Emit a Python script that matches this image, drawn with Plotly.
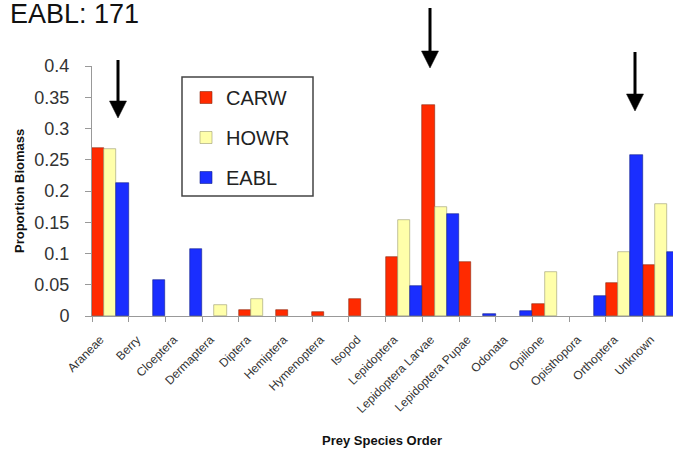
import plotly.graph_objects as go

categories = ["Araneae", "Berry", "Cloeptera", "Dermaptera", "Diptera", "Hemiptera",
              "Hymenoptera", "Isopod", "Lepidoptera", "Lepidoptera Larvae",
              "Lepidoptera Pupae", "Odonata", "Opilione", "Opisthopora",
              "Orthoptera", "Unknown"]
carw = [0.269, None, None, None, 0.010, 0.009, 0.006, 0.027, 0.095, 0.338,
        0.086, None, 0.020, None, 0.053, 0.081]
howr = [0.267, None, None, 0.018, 0.027, None, None, None, 0.154, 0.175,
        None, None, 0.070, None, 0.102, 0.180]
eabl = [0.213, 0.057, 0.107, None, None, None, None, None, 0.048, 0.164,
        0.003, 0.008, None, 0.032, 0.258, 0.102]
y_ticks = [0, 0.05, 0.1, 0.15, 0.2, 0.25, 0.3, 0.35, 0.4]

W, H = 673, 452
L, R, T, B = 92, 0, 66, 136
PW, PH = W - L - R, H - T - B

def px(x):
    return (x - L) / PW

def py(y):
    return (H - B - y) / PH

fig = go.Figure()
series = [("CARW", carw, "#FF2A00", "#8a2a10"),
          ("HOWR", howr, "#FFFFAA", "#9a9a70"),
          ("EABL", eabl, "#1A2EFF", "#10208a")]
for name, vals, col, lc in series:
    fig.add_trace(go.Bar(x=categories, y=vals, name=name, legendgroup=name,
                         marker=dict(color=col, line=dict(color=lc, width=0.6))))

shapes = [dict(type="rect", xref="paper", yref="paper",
               x0=px(182), x1=px(313), y0=py(196), y1=py(77),
               fillcolor="white", line=dict(color="#444", width=1.5), layer="above")]
arrows = [(118, 60, 118), (430, 8, 68), (635, 52, 111)]
for ax, ytop, ytip in arrows:
    hb = ytip - 17
    shapes.append(dict(type="line", xref="paper", yref="paper",
                       x0=px(ax), x1=px(ax), y0=py(ytop), y1=py(hb + 2),
                       line=dict(color="black", width=3)))
    shapes.append(dict(type="path", xref="paper", yref="paper",
                       path=f"M {px(ax-8.5)},{py(hb)} L {px(ax+8.5)},{py(hb)} L {px(ax)},{py(ytip)} Z",
                       fillcolor="black", line=dict(color="black", width=0.5)))

fig.update_layout(
    width=W, height=H,
    margin=dict(l=L, r=R, t=T, b=B),
    paper_bgcolor="white", plot_bgcolor="white",
    barmode="group", bargap=0, bargroupgap=0,
    font=dict(family="Liberation Sans, Arial, sans-serif", color="#222"),
    title=dict(text="EABL: 171", x=10 / W, xref="container", xanchor="left",
               y=1 - 4 / H, yref="container", yanchor="top",
               font=dict(size=27, color="#111")),
    xaxis=dict(type="category", range=[-0.5, -0.5 + PW / 36.7],
               tickson="boundaries", ticks="outside", ticklen=5, tickcolor="#999",
               showline=True, linecolor="#999", linewidth=1, showgrid=False,
               tickangle=-45, tickfont=dict(size=12, color="#333"),
               ticklabelshift=-10, ticklabelstandoff=11),
    yaxis=dict(range=[0, 0.4], tickvals=y_ticks, ticks="outside", ticklen=6,
               tickcolor="#999", showline=True, linecolor="#999", linewidth=1,
               showgrid=False, zeroline=False, tickfont=dict(size=18, color="#333"),
               ticklabelstandoff=12),
    legend=dict(x=px(186), y=py(78), xanchor="left", yanchor="top",
                borderwidth=0, bgcolor="rgba(0,0,0,0)",
                font=dict(size=20, color="#222"), traceorder="grouped",
                tracegroupgap=11),
    shapes=shapes,
    annotations=[
        dict(text="<b>Proportion Biomass</b>", xref="paper", yref="paper",
             x=px(19), y=0.5, xanchor="center", yanchor="middle",
             textangle=-90, showarrow=False,
             font=dict(size=13, color="#111")),
        dict(text="<b>Prey Species Order</b>", xref="paper", yref="paper",
             x=px(382), y=py(440), xanchor="center", yanchor="middle",
             showarrow=False, font=dict(size=13, color="#111")),
    ],
)

fig.write_html("out.html", config={"displayModeBar": False},
               post_script="document.body.style.margin='0px';")
